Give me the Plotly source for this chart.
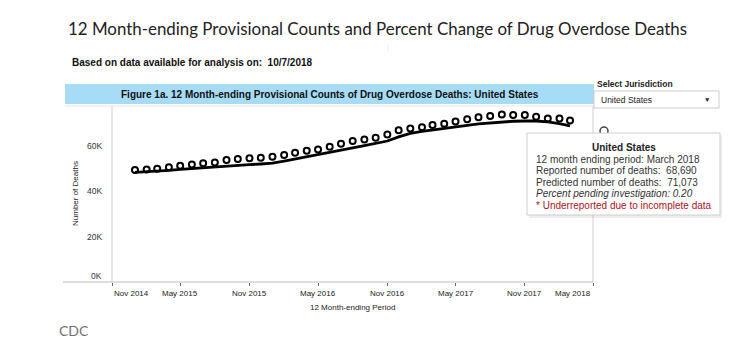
import plotly.graph_objects as go
import pandas as pd

# ---- data (thousands of deaths, 12 month-ending periods Jan 2015 .. Mar 2018) ----
months = pd.date_range("2015-01-01", periods=39, freq="MS")
predicted_k = [49.2, 49.5, 49.8, 50.5, 51.1, 51.7, 52.2, 52.6, 53.6, 54.1,
               54.4, 54.6, 55.1, 55.8, 56.8, 57.7, 58.3, 59.5, 60.8, 62.0,
               62.7, 63.4, 64.9, 66.7, 67.5, 68.1, 69.0, 69.6, 70.6, 71.6,
               72.4, 73.0, 73.7, 73.4, 73.4, 72.7, 71.9, 71.9, 71.073]
reported_k = [48.2, 48.4, 48.7, 49.1, 49.5, 49.9, 50.2, 50.6, 51.0, 51.3,
              51.6, 51.9, 52.3, 53.2, 54.1, 55.0, 55.9, 56.8, 58.0, 59.0,
              60.0, 61.0, 62.0, 63.8, 65.4, 66.2, 66.9, 67.5, 68.2, 68.9,
              69.5, 70.0, 70.5, 70.7, 70.8, 70.8, 70.4, 69.7, 68.69]
predicted = [v * 1000 for v in predicted_k]
reported = [v * 1000 for v in reported_k]

y_tick_vals = [0, 20000, 40000, 60000]
y_tick_labels = ["0K", "20K", "40K", "60K"]
x_tick_vals = ["2014-11-01", "2015-05-01", "2015-11-01", "2016-05-01",
               "2016-11-01", "2017-05-01", "2017-11-01", "2018-05-01"]
x_tick_labels = ["Nov 2014", "May 2015", "Nov 2015", "May 2016",
                 "Nov 2016", "May 2017", "Nov 2017", "May 2018"]

tooltip_title = "United States"
tooltip_lines = [
    ("12 month ending period: March 2018", "#333333", False),
    ("Reported number of deaths:  68,690", "#333333", False),
    ("Predicted number of deaths:  71,073", "#333333", False),
    ("Percent pending investigation: 0.20", "#333333", True),
    ("* Underreported due to incomplete data", "#b0121b", False),
]

# ---- layout geometry (pixels) ----
W, H = 754, 357
L, R, T, B = 112, 593, 106, 282
FONT = "Arial, 'Liberation Sans', sans-serif"


def px(x):
    return (x - L) / (R - L)


def py(y):
    return (B - y) / (B - T)


fig = go.Figure()
fig.add_trace(go.Scatter(x=months, y=reported, mode="lines",
                         line=dict(color="black", width=2.8), name="Reported",
                         hoverinfo="skip"))
fig.add_trace(go.Scatter(x=months, y=predicted, mode="markers",
                         marker=dict(symbol="circle-open", size=6, color="black",
                                     line=dict(width=2, color="black")),
                         name="Predicted", hoverinfo="skip"))

shapes = []
ann = []


def line(x0, y0, x1, y1, color, width=1):
    shapes.append(dict(type="line", xref="paper", yref="paper", x0=px(x0), y0=py(y0),
                       x1=px(x1), y1=py(y1), line=dict(color=color, width=width),
                       layer="above"))


def rect(x0, y0, x1, y1, fill, lc=None, lw=0):
    shapes.append(dict(type="rect", xref="paper", yref="paper", x0=px(x0), y0=py(y1),
                       x1=px(x1), y1=py(y0), fillcolor=fill,
                       line=dict(color=lc or fill, width=lw), layer="above"))


def text(x, y, s, size, color="#222222", xanchor="left", yanchor="middle", family=FONT,
         angle=0):
    ann.append(dict(xref="paper", yref="paper", x=px(x), y=py(y), text=s, showarrow=False,
                    xanchor=xanchor, yanchor=yanchor, textangle=angle,
                    font=dict(size=size, color=color, family=family)))


# plot frame
line(L, T, L, B, "#cfcfcf")
line(R, T, R, B, "#cfcfcf")
line(63, B, R, B, "#bdbdbd")
line(65, T, 595, T, "#e6e6e6")

# header band
rect(65, 84, 594, 104, "#a7dcf7")
text(330, 94, "<b>Figure 1a. 12 Month-ending Provisional Counts of Drug Overdose Deaths: United States</b>",
     10, "#111111", xanchor="center")

# faint separator tick
line(388, 44, 388, 52, "#ececec")

# titles
text(66, 28, "12 Month-ending Provisional Counts and Percent Change of Drug Overdose Deaths",
     16.9, "#222222", family="Lato, 'Open Sans', sans-serif")
text(70, 62, "<b>Based on data available for analysis on:  10/7/2018</b>", 10, "#111111")
text(57, 330, "CDC", 14, "#6f6f6f", family="Lato, 'Open Sans', sans-serif")

# y tick labels
for v, lab in zip(y_tick_vals, y_tick_labels):
    ann.append(dict(xref="paper", yref="y", x=px(104), y=v, text=lab, showarrow=False,
                    xanchor="right", yanchor="middle", yshift=6 if v == 0 else 0,
                    font=dict(size=8.5, color="#333333", family=FONT)))
text(75, 194, "Number of Deaths", 8, "#222222", xanchor="center", angle=-90)

# x tick labels (centred on ticks, first/last pushed inside the axis like Tableau)
n = len(x_tick_vals)
for i, (v, lab) in enumerate(zip(x_tick_vals, x_tick_labels)):
    anchor = "left" if i == 0 else ("right" if i == n - 1 else "center")
    ann.append(dict(xref="x", yref="paper", x=v, y=py(293), text=lab, showarrow=False,
                    xanchor=anchor, yanchor="middle",
                    font=dict(size=8, color="#222222", family=FONT)))
text(352, 307, "12 Month-ending Period", 8, "#222222", xanchor="center")

# jurisdiction selector
text(595, 84, "<b>Select Jurisdiction</b>", 8.5, "#222222")
rect(594, 91, 719, 108, "white", "#cccccc", 1)
text(599, 100, "United States", 8.5, "#222222")
text(707, 99, "▼", 6.5, "#222222", xanchor="center")

# legend circle (partly hidden by tooltip)
shapes.append(dict(type="circle", xref="paper", yref="paper", x0=px(600), x1=px(608),
                   y0=py(135), y1=py(127), line=dict(color="#444444", width=1.5),
                   layer="above"))

# tooltip
rect(529, 135, 722, 218, "rgba(0,0,0,0.07)")
rect(527, 133, 720, 215, "white", "#cfcfcf", 1)
text(624, 147, "<b>" + tooltip_title + "</b>", 10, "#222222", xanchor="center")
for k, (s, col, it) in enumerate(tooltip_lines):
    t = "<i>" + s + "</i>" if it else s
    text(534, 159 + k * 11.6, t, 10, col)

fig.update_layout(
    width=W, height=H,
    margin=dict(l=L, r=W - R, t=T, b=H - B, pad=0),
    paper_bgcolor="white", plot_bgcolor="white",
    showlegend=False,
    xaxis=dict(range=["2014-11-01", "2018-05-01"], showgrid=False, zeroline=False,
               showline=False, tickvals=x_tick_vals, ticks="outside", ticklen=3,
               tickcolor="#666666", tickwidth=1, showticklabels=False),
    yaxis=dict(range=[0, 77400], showgrid=False, zeroline=False, showline=False,
               tickvals=y_tick_vals, showticklabels=False),
    shapes=shapes, annotations=ann,
)

fig.write_html("out.html", config={"displayModeBar": False})

# remove the browser's default page margin so the figure sits at (0, 0)
with open("out.html", "r", encoding="utf-8") as f:
    html = f.read()
html = html.replace("<head>", "<head><style>html,body{margin:0;padding:0;}</style>", 1)
with open("out.html", "w", encoding="utf-8") as f:
    f.write(html)
